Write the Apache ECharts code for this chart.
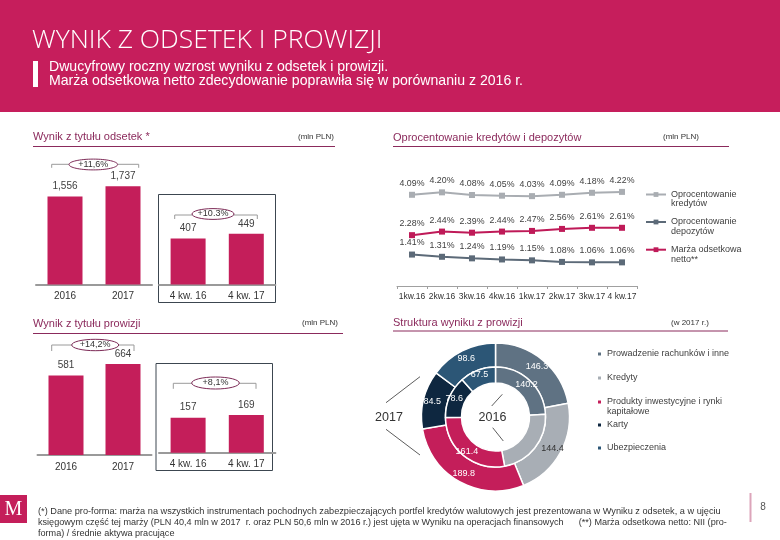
<!DOCTYPE html>
<html><head><meta charset="utf-8">
<script src="https://cdn.jsdelivr.net/npm/echarts@6/dist/echarts.min.js"></script>
<style>html,body{margin:0;padding:0;background:#fff}#c{width:780px;height:540px}</style>
</head><body><div id="c"></div><script>
// ---- data ----
const annualCats = ['2016', '2017'];
const quarterCats = ['4 kw. 16', '4 kw. 17'];
const interestAnnual = [1556, 1737];
const interestQuarter = [407, 449];
const feeAnnual = [581, 664];
const feeQuarter = [157, 169];
const growthLabels = ['+11,6%', '+10.3%', '+14,2%', '+8,1%'];
const rateCats = ['1kw.16', '2kw.16', '3kw.16', '4kw.16', '1kw.17', '2kw.17', '3kw.17', '4 kw.17'];
const rateSeriesNames = ['Oprocentowanie\nkredytów', 'Oprocentowanie\ndepozytów', 'Marża odsetkowa\nnetto**'];
const loanRates = [4.09, 4.20, 4.08, 4.05, 4.03, 4.09, 4.18, 4.22];
const depositRates = [1.41, 1.31, 1.24, 1.19, 1.15, 1.08, 1.06, 1.06];
const nimRates = [2.28, 2.44, 2.39, 2.44, 2.47, 2.56, 2.61, 2.61];
const feeCategories = ['Prowadzenie rachunków i inne', 'Kredyty', 'Produkty inwestycyjne i rynki kapitałowe', 'Karty', 'Ubezpieczenia'];
const feeLegendText = ['Prowadzenie rachunków i inne', 'Kredyty', 'Produkty inwestycyjne i rynki\nkapitałowe', 'Karty', 'Ubezpieczenia'];
const fees2016 = [140.2, 133.4, 161.4, 78.6, 67.5];
const fees2017 = [146.3, 144.4, 189.8, 84.5, 98.6];

// ---- styles ----
const F = "'Liberation Sans', Arial, sans-serif";
const CRIMSON = '#C41E5A';
const PLUM = '#8b2a5c';
const pieColors = ['#5f7283', '#a8aeb5', '#C41E5A', '#0e2740', '#2c5676'];
const pieLabelColors = ['#fff', '#333', '#fff', '#fff', '#fff'];
const rateColors = ['#a9adb2', '#5c6a78', '#bf1a58'];
const rateLegendY = [194.5, 222, 249.7];     // first-line centre of each legend item
const feeLegendY = [354, 378, 402, 425, 448];

const chart = echarts.init(document.getElementById('c'), null, {renderer: 'canvas'});

const gridDefs = [
  {left: 36, top: 171.5, width: 116, height: 113},
  {left: 159, top: 171.5, width: 116.4, height: 113},
  {left: 37.5, top: 318, width: 114, height: 137},
  {left: 159, top: 341.2, width: 116.4, height: 111.5},
  {left: 397, top: 174.5, width: 240, height: 111.5}
];
const grid = gridDefs.map(g => Object.assign({containLabel: false, outerBoundsMode: 'none'}, g));

const barAxis = (i, cats) => ({
  type: 'category', gridIndex: i, data: cats, boundaryGap: true,
  axisLine: {show: true, lineStyle: {color: '#9a9a9a', width: 2}},
  axisTick: {show: false},
  axisLabel: {fontFamily: F, fontSize: 10, color: '#333', margin: 7, interval: 0}
});
const valAxis = (i, max) => ({type: 'value', gridIndex: i, min: 0, max: max, show: false});

const barSeries = (i, data, fmt) => ({
  type: 'bar', xAxisIndex: i, yAxisIndex: i, data: data, barWidth: 35, silent: true,
  itemStyle: {color: CRIMSON},
  label: {show: true, position: 'top', distance: 5, fontFamily: F, fontSize: 10, color: '#404040', formatter: fmt}
});

const lineSeries = (name, data, color) => ({
  type: 'line', name: name, xAxisIndex: 4, yAxisIndex: 4, data: data, silent: true,
  symbol: 'rect', symbolSize: 6, color: color,
  itemStyle: {color: color}, lineStyle: {color: color, width: 2},
  label: {show: true, position: 'top', distance: 4, fontFamily: F, fontSize: 8.8, color: '#404040',
          formatter: p => p.value.toFixed(2) + '%'}
});

const pieData = vals => vals.map((v, i) => ({
  name: feeCategories[i], value: v,
  itemStyle: {color: pieColors[i]}, label: {color: pieLabelColors[i]}
}));
const pieSeries = (vals, radius) => ({
  type: 'pie', center: [495.5, 417], radius: radius, startAngle: 90, clockwise: true,
  avoidLabelOverlap: false, silent: true, data: pieData(vals),
  itemStyle: {borderColor: '#fff', borderWidth: 1.5},
  label: {show: true, position: 'inside', fontFamily: F, fontSize: 9, formatter: p => p.value.toFixed(1)},
  labelLine: {show: false}, emphasis: {disabled: true}
});

// multi-line legend text: an empty first line keeps the icon level with the first text line
const richWrap = s => {
  const parts = s.split('\n');
  const body = parts.map(t => '{t|' + t + '}').join('\n');
  return parts.length > 1 ? '{e| }\n' + body : body;
};
const legendText = (lh) => ({fontFamily: F, fontSize: 9, color: '#404040', lineHeight: lh,
  rich: {t: {fontFamily: F, fontSize: 9, color: '#404040', lineHeight: lh},
         e: {fontFamily: F, fontSize: 9, lineHeight: lh}}});

const legends = [].concat(
  rateSeriesNames.map((n, i) => ({
    data: [n], orient: 'vertical', left: 645, top: rateLegendY[i] - 14.25, itemWidth: 20, itemHeight: 6,
    selectedMode: false, padding: 0, formatter: richWrap, textStyle: legendText(9.5)
  })),
  feeCategories.map((n, i) => {
    const multi = feeLegendText[i].indexOf('\n') >= 0;
    return {
      data: [n], orient: 'vertical', left: 596, top: feeLegendY[i] - (multi ? 15 : 5), itemWidth: 5, itemHeight: 5,
      icon: 'rect', selectedMode: false, padding: 0,
      formatter: () => richWrap(feeLegendText[i]), textStyle: legendText(10)
    };
  })
);

// ---- graphic helpers ----
const rect = (x, y, w, h, fill, stroke, lw) => ({type: 'rect', silent: true, shape: {x: x, y: y, width: w, height: h},
  style: {fill: fill || 'none', stroke: stroke || 'none', lineWidth: lw || 0}});
const line = (x1, y1, x2, y2, stroke, lw) => ({type: 'line', silent: true, shape: {x1: x1, y1: y1, x2: x2, y2: y2},
  style: {stroke: stroke, lineWidth: lw || 1}});
const text = (x, y, t, size, color, align, extra) => ({type: 'text', silent: true, x: x, y: y,
  style: Object.assign({text: t, fontSize: size, fontFamily: F, fill: color, align: align || 'left', verticalAlign: 'middle'}, extra || {})});
const bracket = (x1, x2, y, tick, cx, rx, cy, ry, label) => [
  line(x1, y, x2, y, '#9a9a9a', 1), line(x1, y, x1, y + tick, '#9a9a9a', 1), line(x2, y, x2, y + tick, '#9a9a9a', 1),
  {type: 'ellipse', silent: true, shape: {cx: cx, cy: cy, rx: rx, ry: ry}, style: {fill: '#fff', stroke: '#7d2b57', lineWidth: 1}},
  text(cx, cy, label, 9, '#333', 'center')
];

const graphics = [].concat(
  [rect(0, 0, 780, 112, '#C61E5C'),
   text(32, 40, 'WYNIK Z ODSETEK I PROWIZJI', 26.5, '#fff', 'left', {fontFamily: "'Open Sans', " + F, fontWeight: 300}),
   rect(33, 61, 5, 26, '#fff'),
   text(49, 67.5, 'Dwucyfrowy roczny wzrost wyniku z odsetek i prowizji.', 14.1, '#fff'),
   text(49, 81.5, 'Marża odsetkowa netto zdecydowanie poprawiła się w porównaniu z 2016 r.', 14.1, '#fff'),
   // section headers
   text(33, 137, 'Wynik z tytułu odsetek *', 11, PLUM),
   text(334, 137, '(mln PLN)', 8, '#333', 'right'),
   line(33, 146.5, 335, 146.5, PLUM, 1),
   text(393, 138, 'Oprocentowanie kredytów i depozytów', 11, PLUM),
   text(663, 137, '(mln PLN)', 8, '#333'),
   line(393, 146.5, 729, 146.5, PLUM, 1),
   text(33, 323.5, 'Wynik z tytułu prowizji', 11, PLUM),
   text(338, 323, '(mln PLN)', 8, '#333', 'right'),
   line(33, 333.5, 343, 333.5, PLUM, 1),
   text(393, 323, 'Struktura wyniku z prowizji', 11, PLUM),
   text(671, 323, '(w 2017 r.)', 8, '#333'),
   line(393, 331, 728, 331, PLUM, 1),
   // quarter boxes
   rect(158.5, 194.5, 117, 108, 'none', '#3c4650', 1),
   rect(156, 363.5, 116.5, 107, 'none', '#3c4650', 1)],
  bracket(51.7, 138.7, 164.3, 3.5, 93.3, 24.3, 164.5, 5.4, growthLabels[0]),
  bracket(174.7, 257.3, 215, 4, 213, 21, 214, 5.4, growthLabels[1]),
  bracket(51.7, 134, 345, 6, 95.2, 23.5, 345, 5.7, growthLabels[2]),
  bracket(173.3, 256, 383.3, 5.5, 215.5, 23.8, 383, 6, growthLabels[3]),
  [text(389, 418, '2017', 12.5, '#333', 'center'),
   text(492.5, 418, '2016', 12.5, '#333', 'center'),
   line(386, 402.7, 420, 376.7, '#333', 0.8),
   line(386, 429.3, 420, 455, '#333', 0.8),
   line(491.7, 406, 502.3, 394.3, '#333', 0.8),
   line(492.7, 427.7, 503.3, 441, '#333', 0.8),
   // footer
   rect(0, 495, 27, 28, CRIMSON),
   text(13.5, 509.5, 'M', 20, '#fff', 'center', {fontFamily: "'Liberation Serif', 'DejaVu Serif', serif"}),
   text(38, 511, '(*) Dane pro-forma: marża na wszystkich instrumentach pochodnych zabezpieczających portfel kredytów walutowych jest prezentowana w Wyniku z odsetek, a w ujęciu', 9.2, '#333'),
   text(38, 522, 'księgowym część tej marży (PLN 40,4 mln w 2017  r. oraz PLN 50,6 mln w 2016 r.) jest ujęta w Wyniku na operacjach finansowych      (**) Marża odsetkowa netto: NII (pro-', 9.1, '#333'),
   text(38, 533, 'forma) / średnie aktywa pracujące', 9.1, '#333'),
   line(750.5, 493, 750.5, 522, '#dca5ba', 2),
   text(763, 507, '8', 10, '#555', 'center')]
);

const option = {
  animation: false,
  backgroundColor: '#fff',
  textStyle: {fontFamily: F},
  grid: grid,
  xAxis: [
    barAxis(0, annualCats), barAxis(1, quarterCats), barAxis(2, annualCats), barAxis(3, quarterCats),
    {type: 'category', gridIndex: 4, data: rateCats, boundaryGap: true,
     axisLine: {show: true, lineStyle: {color: '#a0a0a0', width: 1}},
     axisTick: {show: true, length: 3, lineStyle: {color: '#a0a0a0'}},
     axisLabel: {fontFamily: F, fontSize: 8.5, color: '#333', margin: 6, interval: 0}}
  ],
  yAxis: [valAxis(0, 2000), valAxis(1, 1000), valAxis(2, 1000), valAxis(3, 500), valAxis(4, 5)],
  legend: legends,
  series: [
    barSeries(0, interestAnnual, p => p.value.toLocaleString('en-US')),
    barSeries(1, interestQuarter, p => String(p.value)),
    barSeries(2, feeAnnual, p => String(p.value)),
    barSeries(3, feeQuarter, p => String(p.value)),
    lineSeries(rateSeriesNames[0], loanRates, rateColors[0]),
    lineSeries(rateSeriesNames[1], depositRates, rateColors[1]),
    lineSeries(rateSeriesNames[2], nimRates, rateColors[2]),
    pieSeries(fees2017, [50, 74]),
    pieSeries(fees2016, [34, 50])
  ],
  graphic: graphics
};
chart.setOption(option);
</script></body></html>
